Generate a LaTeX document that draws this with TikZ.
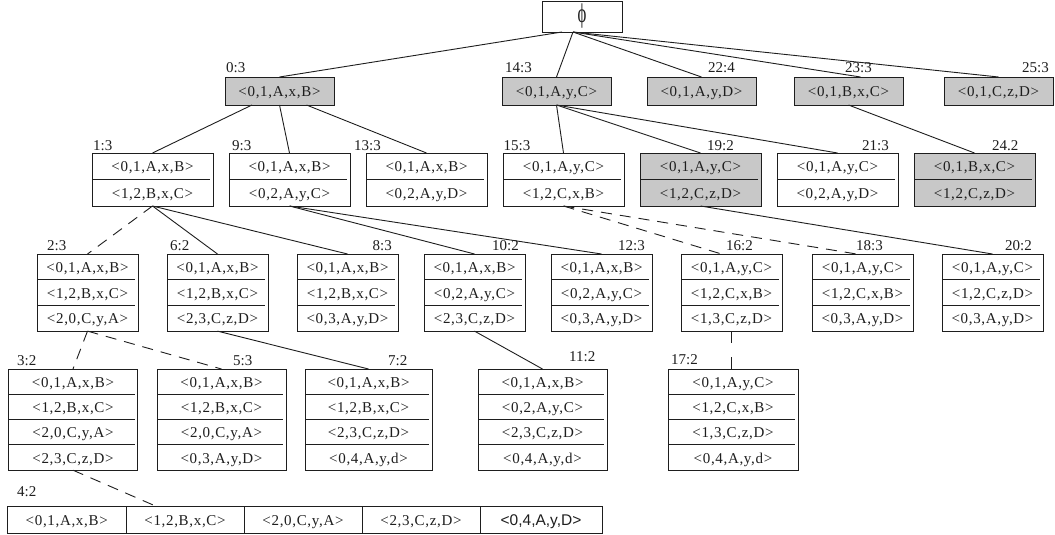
\documentclass[tikz,border=0pt]{standalone}
\usepackage{fontspec}
\setmainfont{Liberation Serif}
\newfontfamily\cellfont[LetterSpace=4.5]{Liberation Serif}
\newfontfamily\plainsans{Liberation Sans}
\usetikzlibrary{calc}
\definecolor{boxgray}{RGB}{200,200,200}
\definecolor{ink}{RGB}{30,30,30}
\tikzset{
  box/.style={draw=ink, line width=0.9pt, rectangle, inner sep=0pt, outer sep=0pt},
  grayfill/.style={fill=boxgray},
  whitefill/.style={fill=white},
  celltext/.style={font={\cellfont\fontsize{15}{18}\selectfont}, text=ink, inner sep=0pt, anchor=base},
  lab/.style={font={\fontsize{15}{18}\selectfont}, text=ink, inner sep=0pt},
  divider/.style={draw=ink, line width=0.9pt},
  link/.style={draw=ink, line width=0.9pt},
  dlink/.style={link, dash pattern=on 11pt off 8pt},
}
% #1 fill style, #2 name, #3 left, #4 top, #5 width, #6 row height, #7 rows, #8 rows' texts
\newcommand\mkbox[8]{%
  \node[box,#1,minimum width=#5pt,minimum height={#6*#7pt},anchor=north west] (#2) at (#3,#4) {};
  \foreach \txt [count=\k] in {#8}{%
    \node[celltext] at ($(#2.north west)+({#5/2},{(\k-0.5)*#6+5.5})$) {\txt};
    \ifnum\k<#7\relax
      \draw[divider] ($(#2.north west)+(0,{\k*#6})$) -- ++({#5-3},0);
    \fi
  }%
}
\begin{document}
\begin{tikzpicture}[x=1pt,y=-1pt]
\useasboundingbox[fill=white] (0,0) rectangle (1055,535);

% root
\node[box,whitefill,minimum width=80pt,minimum height=31pt,anchor=north west,
      font={\fontsize{27}{30}\selectfont}, text=ink] (root) at (542,1) {\scalebox{0.62}[1]{ϕ}};

% level 1
\mkbox{grayfill}{n03}{225}{77}{109}{28}{1}{{<0,1,A,x,B>}}
\mkbox{grayfill}{n143}{502}{77}{109}{28}{1}{{<0,1,A,y,C>}}
\mkbox{grayfill}{n224}{647}{77}{109}{28}{1}{{<0,1,A,y,D>}}
\mkbox{grayfill}{n233}{794}{77}{109}{28}{1}{{<0,1,B,x,C>}}
\mkbox{grayfill}{n253}{944}{77}{109}{28}{1}{{<0,1,C,z,D>}}
\node[lab,anchor=base west] (t03) at (226,73) {0:3};
\node[lab,anchor=base west] (t143) at (505,73) {14:3};
\node[lab,anchor=base east] (t224) at (735,73) {22:4};
\node[lab,anchor=base west] (t233) at (845,73) {23:3};
\node[lab,anchor=base east] (t253) at (1049,73) {25:3};

% level 2
\mkbox{whitefill}{n13}{92}{153}{121}{26.5}{2}{{<0,1,A,x,B>},{<1,2,B,x,C>}}
\mkbox{whitefill}{n93}{229}{153}{121}{26.5}{2}{{<0,1,A,x,B>},{<0,2,A,y,C>}}
\mkbox{whitefill}{n133}{366}{153}{121}{26.5}{2}{{<0,1,A,x,B>},{<0,2,A,y,D>}}
\mkbox{whitefill}{n153}{503}{153}{121}{26.5}{2}{{<0,1,A,y,C>},{<1,2,C,x,B>}}
\mkbox{grayfill}{n192}{640}{153}{121}{26.5}{2}{{<0,1,A,y,C>},{<1,2,C,z,D>}}
\mkbox{whitefill}{n213}{777}{153}{121}{26.5}{2}{{<0,1,A,y,C>},{<0,2,A,y,D>}}
\mkbox{grayfill}{n242}{914}{153}{121}{26.5}{2}{{<0,1,B,x,C>},{<1,2,C,z,D>}}
\node[lab,anchor=base west] (t13) at (93,150) {1:3};
\node[lab,anchor=base west] (t93) at (232,150) {9:3};
\node[lab,anchor=base west] (t133) at (354,150) {13:3};
\node[lab,anchor=base west] (t153) at (503.5,150) {15:3};
\node[lab,anchor=base west] (t192) at (707,150) {19:2};
\node[lab,anchor=base east] (t213) at (889,150) {21:3};
\node[lab,anchor=base west] (t242) at (992,150) {24.2};

% level 3
\mkbox{whitefill}{n23}{37}{254}{101}{25.7}{3}{{<0,1,A,x,B>},{<1,2,B,x,C>},{<2,0,C,y,A>}}
\mkbox{whitefill}{n62}{167}{254}{101}{25.7}{3}{{<0,1,A,x,B>},{<1,2,B,x,C>},{<2,3,C,z,D>}}
\mkbox{whitefill}{n83}{297}{254}{101}{25.7}{3}{{<0,1,A,x,B>},{<1,2,B,x,C>},{<0,3,A,y,D>}}
\mkbox{whitefill}{n102}{424}{254}{101}{25.7}{3}{{<0,1,A,x,B>},{<0,2,A,y,C>},{<2,3,C,z,D>}}
\mkbox{whitefill}{n123}{551}{254}{101}{25.7}{3}{{<0,1,A,x,B>},{<0,2,A,y,C>},{<0,3,A,y,D>}}
\mkbox{whitefill}{n162}{681}{254}{101}{25.7}{3}{{<0,1,A,y,C>},{<1,2,C,x,B>},{<1,3,C,z,D>}}
\mkbox{whitefill}{n183}{812}{254}{101}{25.7}{3}{{<0,1,A,y,C>},{<1,2,C,x,B>},{<0,3,A,y,D>}}
\mkbox{whitefill}{n202}{942}{254}{101}{25.7}{3}{{<0,1,A,y,C>},{<1,2,C,z,D>},{<0,3,A,y,D>}}
\node[lab,anchor=base west] (t23) at (47,250) {2:3};
\node[lab,anchor=base west] (t62) at (170,250) {6:2};
\node[lab,anchor=base east] (t83) at (392,250) {8:3};
\node[lab,anchor=base east] (t102) at (519,250) {10:2};
\node[lab,anchor=base east] (t123) at (645,250) {12:3};
\node[lab,anchor=base west] (t162) at (726,250) {16:2};
\node[lab,anchor=base west] (t183) at (856,250) {18:3};
\node[lab,anchor=base east] (t202) at (1032,250) {20:2};

% level 4
\mkbox{whitefill}{n32}{8.5}{369}{129}{25.3}{4}{{<0,1,A,x,B>},{<1,2,B,x,C>},{<2,0,C,y,A>},{<2,3,C,z,D>}}
\mkbox{whitefill}{n53}{157}{369}{129}{25.3}{4}{{<0,1,A,x,B>},{<1,2,B,x,C>},{<2,0,C,y,A>},{<0,3,A,y,D>}}
\mkbox{whitefill}{n72}{305}{369}{127}{25.3}{4}{{<0,1,A,x,B>},{<1,2,B,x,C>},{<2,3,C,z,D>},{<0,4,A,y,d>}}
\mkbox{whitefill}{n112}{478}{369}{129}{25.3}{4}{{<0,1,A,x,B>},{<0,2,A,y,C>},{<2,3,C,z,D>},{<0,4,A,y,d>}}
\mkbox{whitefill}{n172}{668}{369}{130}{25.3}{4}{{<0,1,A,y,C>},{<1,2,C,x,B>},{<1,3,C,z,D>},{<0,4,A,y,d>}}
\node[lab,anchor=base west] (t32) at (17,365) {3:2};
\node[lab,anchor=base west] (t53) at (233,365) {5:3};
\node[lab,anchor=base west] (t72) at (388,365) {7:2};
\node[lab,anchor=base west] (t112) at (569,361) {11:2};
\node[lab,anchor=base west] (t172) at (671,364) {17:2};

% level 5: one wide row of cells
\node[box,whitefill,minimum width=594.5pt,minimum height=27pt,anchor=north west] (r42) at (7.5,506) {};
\foreach \dx in {118.5,236.5,354.5,472.5}
  \draw[divider] ($(r42.north west)+(\dx,0)$) -- ($(r42.south west)+(\dx,0)$);
\node[celltext] at ($(r42.north west)+(59.25,19)$) {<0,1,A,x,B>};
\node[celltext] at ($(r42.north west)+(177.5,19)$) {<1,2,B,x,C>};
\node[celltext] at ($(r42.north west)+(295.5,19)$) {<2,0,C,y,A>};
\node[celltext] at ($(r42.north west)+(413.5,19)$) {<2,3,C,z,D>};
\node[celltext,font={\plainsans\fontsize{15.5}{18}\selectfont}] at ($(r42.north west)+(533.5,19)$) {<0,4,A,y,D>};
\node[lab,anchor=base west] (t42) at (17,496) {4:2};

% links
\draw[link] ($(root.south)+(-20,0)$) -- (n03.north);
\draw[link] ($(root.south)+(-9,0)$) -- (n143.north);
\draw[link] ($(root.south)+(-9,0)$) -- (n224.north);
\draw[link] ($(root.south)+(-9,0)$) -- ($(n233.north)+(12,0)$);
\draw[link] ($(root.south)+(-9,0)$) -- (n253.north);

\draw[link] ($(n03.south)+(-27.5,0)$) -- (n13.north);
\draw[link] (n03.south) -- (n93.north);
\draw[link] ($(n03.south)+(27,0)$) -- (n133.north);
\draw[link] (n143.south) -- (n153.north);
\draw[link] (n143.south) -- (n192.north);
\draw[link] (n143.south) -- (n213.north);
\draw[link] (n233.south) -- (n242.north);

\draw[dlink] (n13.south) -- (n23.north);
\draw[link] (n13.south) -- (n62.north);
\draw[link] (n13.south) -- (n83.north);
\draw[link] (n93.south) -- (n102.north);
\draw[link] (n93.south) -- (n123.north);
\draw[dlink] (n153.south) -- ($(n162.north)+(-10,0)$);
\draw[dlink] (n153.south) -- ($(n183.north)+(-6,0)$);
\draw[link] (n192.south) -- (n202.north);

\draw[dlink] (n23.south) -- (n32.north);
\draw[dlink] (n23.south) -- (n53.north);
\draw[link] (n62.south) -- (n72.north);
\draw[link] (n102.south) -- (n112.north);
\draw[link, dash pattern=on 12pt off 14pt] (n162.south) -- (n162.south |- n172.north);

\draw[dlink] (n32.south) -- ($(r42.north west)+(148,0)$);
\end{tikzpicture}
\end{document}
